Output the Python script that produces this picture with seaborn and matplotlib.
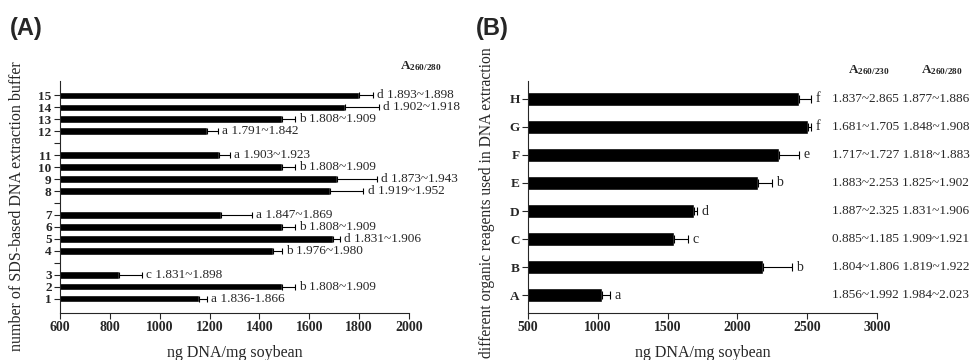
import pandas as pd
import matplotlib
matplotlib.use('Agg')
import matplotlib.pyplot as plt
import seaborn as sns

# panel A: SDS-based extraction buffers
a_labels = ['1', '2', '3', '4', '5', '6', '7', '8', '9', '10', '11', '12', '13', '14', '15']
a_vals = [1158, 1490, 837, 1456, 1697, 1490, 1245, 1683, 1710, 1490, 1238, 1189, 1490, 1745, 1800]
a_err = [30, 52, 91, 34, 26, 52, 125, 134, 160, 52, 44, 46, 52, 135, 55]
a_letters = ['a', 'b', 'c', 'b', 'd', 'b', 'a', 'd', 'd', 'b', 'a', 'a', 'b', 'd', 'd']
a_ranges = ['1.836-1.866', '1.808~1.909', '1.831~1.898', '1.976~1.980', '1.831~1.906',
            '1.808~1.909', '1.847~1.869', '1.919~1.952', '1.873~1.943', '1.808~1.909',
            '1.903~1.923', '1.791~1.842', '1.808~1.909', '1.902~1.918', '1.893~1.898']
# top-to-bottom slot order, blanks are the gaps between groups
a_order = ['15', '14', '13', '12', ' ', '11', '10', '9', '8', '  ',
           '7', '6', '5', '4', '   ', '3', '2', '1']

# panel B: organic reagents
b_labels = ['A', 'B', 'C', 'D', 'E', 'F', 'G', 'H']
b_vals = [1030, 2183, 1545, 1689, 2147, 2297, 2505, 2441]
b_err = [57, 207, 102, 23, 100, 144, 25, 86]
b_letters = ['a', 'b', 'c', 'd', 'b', 'e', 'f', 'f']
b_230 = ['1.856~1.992', '1.804~1.806', '0.885~1.185', '1.887~2.325',
         '1.883~2.253', '1.717~1.727', '1.681~1.705', '1.837~2.865']
b_280 = ['1.984~2.023', '1.819~1.922', '1.909~1.921', '1.831~1.906',
         '1.825~1.902', '1.818~1.883', '1.848~1.908', '1.877~1.886']
b_order = ['H', 'G', 'F', 'E', 'D', 'C', 'B', 'A']

sns.set_style('ticks')
plt.rcParams['font.family'] = ['Liberation Serif', 'DejaVu Serif']
plt.rcParams['mathtext.fontset'] = 'custom'
plt.rcParams['mathtext.rm'] = 'Liberation Serif'
plt.rcParams['mathtext.bf'] = 'Liberation Serif:bold'

dfa = pd.DataFrame({'buffer': a_labels, 'ng': a_vals, 'err': a_err})
dfb = pd.DataFrame({'reagent': b_labels, 'ng': b_vals, 'err': b_err})

fig = plt.figure(figsize=(9.71, 3.6), dpi=100)
axA = fig.add_axes([60 / 971, 1 - 313 / 360, 349 / 971, 232 / 360])
axB = fig.add_axes([528 / 971, 1 - 313 / 360, 349 / 971, 232 / 360])


def style_axis(ax, xlabel, ylabel, ylab_x, ylab_y, ylab_size):
    sns.despine(ax=ax)
    ax.set_xlabel(xlabel, fontsize=11.5, labelpad=8)
    ax.set_ylabel(ylabel, fontsize=ylab_size)
    ax.yaxis.set_label_coords(ylab_x, ylab_y)
    ax.tick_params(axis='both', direction='out', length=4, width=0.8, pad=2)
    for lab in ax.get_xticklabels():
        lab.set_fontweight('bold')
        lab.set_fontsize(10)
    for lab in ax.get_yticklabels():
        lab.set_fontweight('bold')
        lab.set_fontsize(9.5)
    for sp in ax.spines.values():
        sp.set_linewidth(0.8)


# ---- panel A ----
sns.barplot(data=dfa, x='ng', y='buffer', order=a_order, orient='h', color='black',
            width=0.62, errorbar=None, ax=axA, saturation=1)
ya = [a_order.index(l) for l in a_labels]
axA.errorbar(a_vals, ya, xerr=[[0] * len(a_err), a_err], fmt='none', ecolor='black',
             elinewidth=0.8, capsize=2.5, capthick=0.8)
for v, e, y, let, rng in zip(a_vals, a_err, ya, a_letters, a_ranges):
    axA.annotate(f'{let} {rng}', (v + e, y), xytext=(3, 0), textcoords='offset points',
                 va='center', ha='left', fontsize=9.5, annotation_clip=False)
axA.set_xlim(600, 2000)
axA.set_xticks(range(600, 2001, 200))
style_axis(axA, 'ng DNA/mg soybean', 'number of SDS-based DNA extraction buffer',
           -0.10, 0.46, 11.5)
fig.text(400 / 971, 1 - 66 / 360, r'$\mathbf{A_{260/280}}$', fontsize=9.5, va='center')
fig.text(10 / 971, 1 - 28 / 360, '(A)', fontsize=17, fontweight='bold',
         family='Liberation Sans', va='center')

# ---- panel B ----
sns.barplot(data=dfb, x='ng', y='reagent', order=b_order, orient='h', color='black',
            width=0.5, errorbar=None, ax=axB, saturation=1)
yb = [b_order.index(l) for l in b_labels]
axB.errorbar(b_vals, yb, xerr=[[0] * len(b_err), b_err], fmt='none', ecolor='black',
             elinewidth=0.8, capsize=3, capthick=0.8)
for v, e, y, let, r1, r2 in zip(b_vals, b_err, yb, b_letters, b_230, b_280):
    axB.annotate(let, (v + e, y), xytext=(3, 0), textcoords='offset points',
                 va='center', ha='left', fontsize=10, annotation_clip=False)
    axB.annotate(f'{r1} {r2}', (2680, y), va='center', ha='left', fontsize=9.5,
                 annotation_clip=False)
axB.set_xlim(500, 3000)
axB.set_xticks(range(500, 3001, 500))
style_axis(axB, 'ng DNA/mg soybean', 'different organic reagents used in DNA extraction',
           -0.095, 0.475, 11.2)
fig.text(848 / 971, 1 - 70 / 360, r'$\mathbf{A_{260/230}}$', fontsize=9.5, va='center')
fig.text(921 / 971, 1 - 70 / 360, r'$\mathbf{A_{260/280}}$', fontsize=9.5, va='center')
fig.text(476 / 971, 1 - 28 / 360, '(B)', fontsize=17, fontweight='bold',
         family='Liberation Sans', va='center')

fig.savefig('out.png', dpi=100)
